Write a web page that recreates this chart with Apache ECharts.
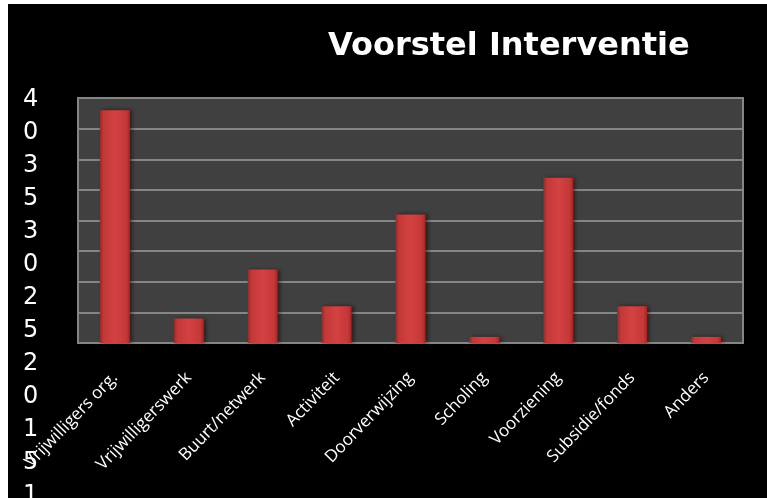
<!DOCTYPE html>
<html>
<head>
<meta charset="utf-8">
<script src="https://cdn.jsdelivr.net/npm/echarts@6/dist/echarts.min.js"></script>
<style>
html,body{margin:0;padding:0;background:#fff;}
#c{width:767px;height:498px;}
</style>
</head>
<body>
<div id="c"></div>
<script>
const titleText = 'Voorstel Interventie';
const categories = ['Vrijwilligers org.', 'Vrijwilligerswerk', 'Buurt/netwerk', 'Activiteit', 'Doorverwijzing', 'Scholing', 'Voorziening', 'Subsidie/fonds', 'Anders'];
const values = [38, 4, 12, 6, 21, 1, 27, 6, 1];
const tickLabels = ['40', '35', '30', '25', '20', '15', '10', '5', '0'];

// the y tick labels are wrapped one digit per line in the reference
const yLabelText = tickLabels.map(t => t.split('').join('\n')).join('\n');

const chart = echarts.init(document.getElementById('c'));
chart.setOption({
  backgroundColor: '#ffffff',
  animation: false,
  graphic: [
    { type: 'rect', z: -10, shape: { x: 8, y: 4, width: 759, height: 494 }, style: { fill: '#000000' } },
    { type: 'text', z: 5, x: 23, y: 83, style: { text: yLabelText, fill: '#ffffff', font: '24px "DejaVu Sans"', lineHeight: 33, verticalAlign: 'top' } }
  ],
  title: {
    text: titleText,
    left: 323,
    top: 26,
    textStyle: { color: '#ffffff', fontFamily: 'DejaVu Sans', fontWeight: 'bold', fontSize: 32 }
  },
  grid: { left: 78, right: 24, top: 98, bottom: 155, show: true, backgroundColor: '#404040', borderColor: '#858585', borderWidth: 2 },
  xAxis: {
    type: 'category',
    data: categories,
    axisLine: { show: true, lineStyle: { color: '#858585', width: 2 } },
    axisTick: { show: false },
    axisLabel: { color: '#ffffff', rotate: 46, margin: 32, fontSize: 17, fontFamily: 'Open Sans', interval: 0 }
  },
  yAxis: {
    type: 'value',
    min: 0, max: 40, interval: 5,
    axisLabel: { show: false },
    axisLine: { show: false },
    axisTick: { show: false },
    splitLine: { lineStyle: { color: '#858585', width: 2 } }
  },
  series: [{
    type: 'bar',
    data: values,
    barWidth: 30,
    itemStyle: {
      color: new echarts.graphic.LinearGradient(0, 0, 1, 0, [
        { offset: 0, color: '#9c2626' },
        { offset: 0.12, color: '#c43838' },
        { offset: 0.5, color: '#d44242' },
        { offset: 0.88, color: '#c43838' },
        { offset: 1, color: '#9c2626' }
      ]),
      shadowColor: 'rgba(0,0,0,0.5)',
      shadowBlur: 4,
      shadowOffsetX: 2
    }
  }]
});
</script>
</body>
</html>
